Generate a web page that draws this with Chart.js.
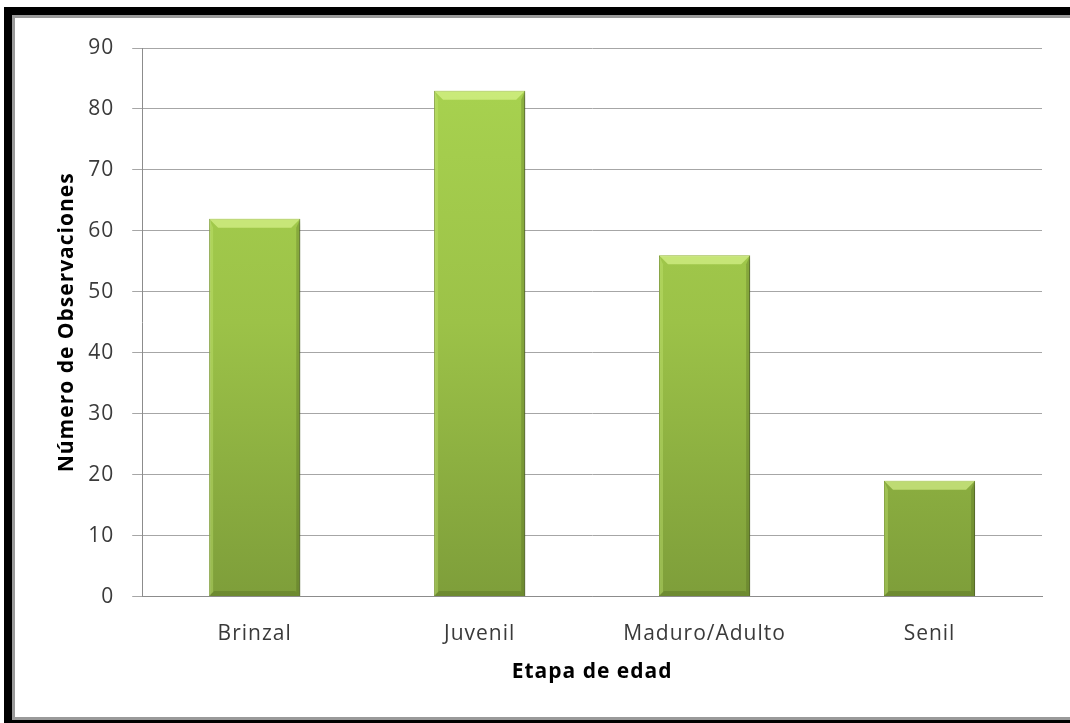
<!DOCTYPE html>
<html>
<head>
<meta charset="utf-8">
<script src="https://cdn.jsdelivr.net/npm/chart.js@4/dist/chart.umd.min.js"></script>
<style>
  html, body { margin: 0; padding: 0; background: #fff; overflow: hidden; }
  #frame {
    position: absolute; left: 4px; top: 7px; width: 1066px; height: 716px;
    border-left: 8px solid #000; border-top: 8px solid #000; border-bottom: 3px solid #000;
    box-sizing: border-box;
  }
  #inner {
    position: absolute; left: 0; top: 0; right: 0; bottom: 0;
    border-left: 3px solid #9a9a9a; border-top: 3px solid #9a9a9a; border-bottom: 3px solid #9a9a9a;
  }
  #myChart { position: absolute; left: 0; top: 0; }
</style>
</head>
<body>
<div id="frame"><div id="inner"></div></div>
<canvas id="myChart" width="1070" height="723"></canvas>
<script>
const categories = ["Brinzal", "Juvenil", "Maduro/Adulto", "Senil"];
const observaciones = [62, 83, 56, 19];
const yTicks = [0, 10, 20, 30, 40, 50, 60, 70, 80, 90];

const fontFamily = "'Open Sans', Lato, sans-serif";

// the original text is a bit stretched, widen it a little
// (canvas resize resets the context, so set it each time)
const spacingPlugin = {
  id: "spacing",
  beforeUpdate(chart) {
    chart.ctx.letterSpacing = "1px";
  },
  beforeDraw(chart) {
    chart.ctx.letterSpacing = "1px";
  }
};

// soft shadow + bevel highlight like the office chart
const bevelPlugin = {
  id: "bevel",
  beforeDatasetsDraw(chart) {
    const ctx = chart.ctx;
    ctx.save();
    ctx.shadowColor = "rgba(0,0,0,0.35)";
    ctx.shadowBlur = 6;
    ctx.shadowOffsetX = 2;
    ctx.shadowOffsetY = 3;
  },
  afterDatasetsDraw(chart) {
    const ctx = chart.ctx;
    ctx.restore();
    const meta = chart.getDatasetMeta(0);
    meta.data.forEach((bar) => {
      const half = bar.width / 2;
      const l = bar.x - half, r = bar.x + half, t = bar.y, b = bar.base;
      const d = 9;
      ctx.save();
      // top light bevel
      ctx.fillStyle = "rgba(225,250,150,0.6)";
      ctx.beginPath();
      ctx.moveTo(l, t); ctx.lineTo(r, t); ctx.lineTo(r - d, t + d); ctx.lineTo(l + d, t + d);
      ctx.closePath(); ctx.fill();
      // right dark bevel
      ctx.fillStyle = "rgba(60,80,20,0.25)";
      ctx.beginPath();
      ctx.moveTo(r, t); ctx.lineTo(r, b); ctx.lineTo(r - 4, b - 4); ctx.lineTo(r - 4, t + d);
      ctx.closePath(); ctx.fill();
      // left light bevel
      ctx.fillStyle = "rgba(200,235,120,0.35)";
      ctx.beginPath();
      ctx.moveTo(l, t); ctx.lineTo(l, b); ctx.lineTo(l + 4, b - 4); ctx.lineTo(l + 4, t + d);
      ctx.closePath(); ctx.fill();
      // bottom dark bevel
      ctx.fillStyle = "rgba(60,80,20,0.25)";
      ctx.beginPath();
      ctx.moveTo(l, b); ctx.lineTo(r, b); ctx.lineTo(r - 5, b - 5); ctx.lineTo(l + 5, b - 5);
      ctx.closePath(); ctx.fill();
      ctx.restore();
    });
  }
};

new Chart("myChart", {
  type: "bar",
  data: {
    labels: categories,
    datasets: [
      {
        data: observaciones,
        backgroundColor: (c) => {
          const area = c.chart.chartArea;
          if (!area) return "#9cc44a";
          const g = c.chart.ctx.createLinearGradient(0, area.top, 0, area.bottom);
          g.addColorStop(0, "#a9d450");
          g.addColorStop(0.5, "#9cc248");
          g.addColorStop(1, "#7e9e3a");
          return g;
        },
        borderColor: "#6f8a2e",
        borderWidth: 1,
        barPercentage: 0.405,
        categoryPercentage: 1,
      },
    ],
  },
  options: {
    responsive: false,
    animation: false,
    layout: { padding: { left: 54, right: 28, top: 48, bottom: 34 } },
    plugins: {
      legend: { display: false },
      tooltip: { enabled: false },
    },
    scales: {
      x: {
        grid: { display: false },
        border: { color: "#8c8c8c", width: 1 },
        ticks: { color: "#3a3a3a", font: { family: fontFamily, size: 21 }, padding: 17 },
        title: {
          display: true,
          text: "Etapa de edad",
          color: "#000",
          font: { family: fontFamily, size: 21, weight: "bold" },
          padding: { top: -4, bottom: 4 },
        },
      },
      y: {
        min: 0,
        max: 90,
        afterBuildTicks: (axis) => {
          axis.ticks = yTicks.map((v) => ({ value: v }));
        },
        grid: { color: "#a6a6a6", tickLength: 10 },
        border: { color: "#8c8c8c", width: 1 },
        ticks: { color: "#3a3a3a", font: { family: fontFamily, size: 21 }, padding: 18 },
        title: {
          display: true,
          text: "Número de Observaciones",
          color: "#000",
          font: { family: fontFamily, size: 21, weight: "bold" },
          padding: { top: 0, bottom: -9 },
        },
      },
    },
  },
  plugins: [spacingPlugin, bevelPlugin],
});
</script>
</body>
</html>
